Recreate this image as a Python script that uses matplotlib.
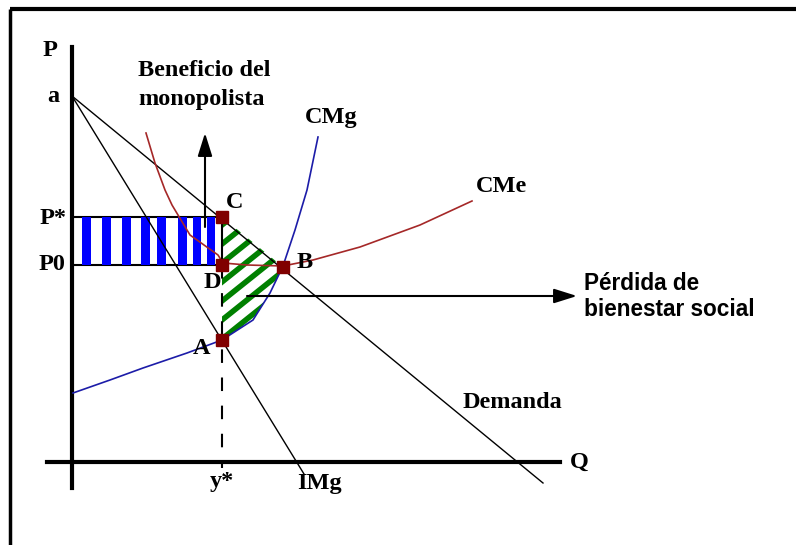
"""
Monopolio: beneficio del monopolista y pérdida de bienestar social
"""

import matplotlib
matplotlib.use('Agg')
from matplotlib import pyplot as plt
from matplotlib.patches import Polygon
from matplotlib.collections import LineCollection

# curvas (Q, P) con origen en el cruce de los ejes
demand_q = [0, 471]
demand_p = [366, -21]
img_q = [0, 232]
img_p = [366, -12]
cmg_q = [1, 38, 71, 115, 150, 181, 198, 211, 223, 235, 246]
cmg_p = [69, 82, 94, 109, 122, 142, 169, 196, 232, 272, 325]
cme_q = [74, 83, 93, 100, 118, 146, 151, 175, 211, 241, 288, 348, 400]
cme_p = [329, 299, 272, 257, 227, 207, 199, 197, 196, 202, 215, 237, 261]

# puntos
y_star = 150
p_star = 245
p_zero = 197
points = {'C': (150, 245), 'D': (150, 197), 'B': (211, 195), 'A': (150, 122)}

# barras azules del beneficio
bar_left = [10, 30, 50, 69, 85, 106, 121, 135]
bar_width = [9, 9, 9, 9, 9, 9, 8, 8]

DARKRED = '#800000'
GREEN = '#008000'
SERIF = dict(family='Liberation Serif', fontweight='bold', fontsize=17.5)
SANS = dict(family='Liberation Sans', fontweight='bold', fontsize=16.3)

fig = plt.figure(figsize=(7.96, 5.45), dpi=100)
ax = fig.add_axes([0, 0, 1, 1])
ax.set_xlim(-72, 724)
ax.set_ylim(-83, 462)
ax.axis('off')

# marco
ax.plot([-62, 724], [453, 453], color='black', lw=3, solid_capstyle='butt')
ax.plot([-62, -62], [453, -83], color='black', lw=2.5, solid_capstyle='butt')

# ejes
ax.plot([0, 0], [415, -26], color='black', lw=3)
ax.plot([-25, 488], [0, 0], color='black', lw=3)

# beneficio (barras azules)
for left, w in zip(bar_left, bar_width):
    ax.bar(left, p_star - p_zero, width=w, bottom=p_zero, align='edge',
           color='#0000ff', lw=0, zorder=2)
ax.plot([0, y_star], [p_star, p_star], color='black', lw=1.5, zorder=1)
ax.plot([0, y_star], [p_zero, p_zero], color='black', lw=1.5, zorder=1)

# pérdida de bienestar (rayado verde)
i_a = cmg_q.index(150)
i_b = cmg_q.index(211)
poly_q = [points['C'][0], points['B'][0]] + cmg_q[i_b:i_a - 1:-1]
poly_p = [points['C'][1], points['B'][1]] + cmg_p[i_b:i_a - 1:-1]
clip = Polygon(list(zip(poly_q, poly_p)), closed=True, facecolor='none',
               edgecolor='none', transform=ax.transData)
ax.add_patch(clip)
segs = []
base = 104
while base < 270:
    segs.append([(140, base - 0.8 * 10), (230, base + 0.8 * 80)])
    base += 19
stripes = LineCollection(segs, colors=GREEN, linewidths=4, zorder=2)
ax.add_collection(stripes)
stripes.set_clip_path(clip)

# curvas
ax.plot(demand_q, demand_p, color='black', lw=1)
ax.plot(img_q, img_p, color='black', lw=1)
ax.plot(cmg_q, cmg_p, color='#1c1ca8', lw=1.2)
ax.plot(cme_q, cme_p, color='#a52828', lw=1.2)

# línea y*
ax.plot([y_star, y_star], [p_star, p_zero], color='black', lw=1.5)
ax.plot([y_star, y_star], [p_zero, -6], color='black', lw=1.5,
        dashes=(6.5, 7))

# flechas
head = '-|>,head_length=0.7,head_width=0.22'
ax.annotate('', xy=(133, 329), xytext=(133, 235),
            arrowprops=dict(arrowstyle=head, color='black', lw=1.5,
                            mutation_scale=20, shrinkA=0, shrinkB=0))
ax.annotate('', xy=(505, 166), xytext=(175, 166),
            arrowprops=dict(arrowstyle=head, color='black', lw=1.5,
                            mutation_scale=20, shrinkA=0, shrinkB=0))

# puntos
for name, (q, p) in points.items():
    ax.plot(q, p, marker='s', ms=8, color=DARKRED, zorder=5)

# textos
ax.text(-22, 411, 'P', ha='center', va='center', **SERIF)
ax.text(-19, 365, 'a', ha='center', va='center', **SERIF)
ax.text(-5, 244, 'P*', ha='right', va='center', **SERIF)
ax.text(-7, 197, 'P0', ha='right', va='center', **SERIF)
ax.text(66, 392, 'Beneficio del', ha='left', va='center', **SERIF)
ax.text(66, 362, 'monopolista', ha='left', va='center', **SERIF)
ax.text(259, 344, 'CMg', ha='center', va='center', **SERIF)
ax.text(404, 275, 'CMe', ha='left', va='center', **SERIF)
ax.text(163, 260, 'C', ha='center', va='center', **SERIF)
ax.text(140, 179, 'D', ha='center', va='center', **SERIF)
ax.text(233, 200, 'B', ha='center', va='center', **SERIF)
ax.text(130, 114, 'A', ha='center', va='center', **SERIF)
ax.text(150, -9, 'y*', ha='center', va='top', **SERIF)
ax.text(225, -11, 'IMg', ha='left', va='top', **SERIF)
ax.text(391, 60, 'Demanda', ha='left', va='center', **SERIF)
ax.text(498, 0, 'Q', ha='left', va='center', **SERIF)
ax.text(512, 179, 'Pérdida de', ha='left', va='center', **SANS)
ax.text(512, 152, 'bienestar social', ha='left', va='center', **SANS)

fig.savefig('out.png', dpi=100)
